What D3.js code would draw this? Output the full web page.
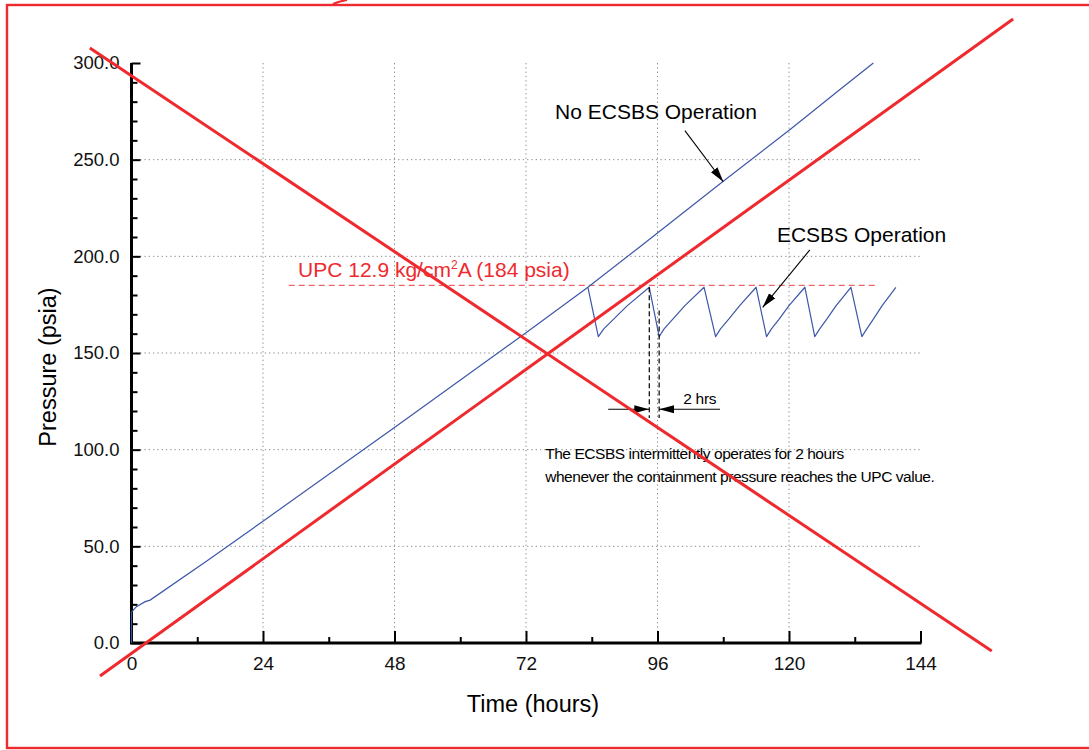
<!DOCTYPE html>
<html>
<head>
<meta charset="utf-8">
<script src="https://cdn.jsdelivr.net/npm/d3@7"></script>
<style>
  body { margin: 0; background: #fff; }
  svg text { font-family: "Liberation Sans", Arial, sans-serif; }
</style>
</head>
<body>
<div class="graph"></div>
<script>
/*---------- DATA ----------*/

// tick labels
const X_TICKS = [0, 24, 48, 72, 96, 120, 144];
const X_MINOR = [12, 36, 60, 84, 108, 132];
const Y_TICKS = [0, 50, 100, 150, 200, 250, 300];
const X_GRID = [24, 48, 72, 96, 120];
const Y_GRID = [50, 100, 150, 200, 250];

// pressure without ECSBS [hours, psia]
const noEcsbs = [
  [0, 0], [0, 16], [0.9, 18.8], [2.5, 21.4], [3.4, 22.2], [14, 42.9],
  [24, 63], [48, 111.5], [72, 160.5], [83.3, 184], [92.8, 205],
  [108, 238.8], [120.2, 265.6], [129.3, 286.3], [135.4, 300]
];

// pressure with ECSBS operating (sawtooth) [hours, psia]
const ecsbs = [
  [83.3, 184], [85.2, 158.5], [86.2, 162.5], [88, 167.5], [90.5, 174.5], [94.5, 184],
  [96.3, 158.5], [97.2, 162.5], [98.8, 167.5], [101, 174.5], [104.5, 184],
  [106.6, 158.5], [107.5, 162.5], [109, 167.5], [111, 174.5], [114, 184],
  [115.9, 158.5], [116.8, 162.5], [118.2, 167.5], [120, 174.5], [122.9, 184],
  [124.7, 158.5], [125.6, 162.5], [126.9, 167.5], [128.6, 174.5], [131.3, 184],
  [133.3, 158.5], [134.2, 162.5], [135.4, 167.5], [137, 174.5], [139.5, 184]
];

// UPC limit line
const UPC = 185;
const UPC_RANGE = [28.7, 136];

// red crossing-out strokes over the whole figure
const crossA = [[-7.6, 307.8], [157.0, -4.1]];
const crossB = [[-5.75, -17.1], [160.9, 322.8]];

/*---------- D3 STUFF ----------*/

const SIZE = {X: 1089, Y: 750};
const PLOT = {LEFT: 131.5, RIGHT: 920.5, TOP: 63, BOTTOM: 643};
const FONT = '"Liberation Sans", Arial, sans-serif';
const RED = "#ee2a2e";
const BLUE = "#3d57a8";

const svg = d3.select(".graph").append("svg")
    .attr("width", SIZE.X)
    .attr("height", SIZE.Y);

// scales
const x = d3.scaleLinear().domain([0, 144]).range([PLOT.LEFT, PLOT.RIGHT]);
const y = d3.scaleLinear().domain([0, 300]).range([PLOT.BOTTOM, PLOT.TOP]);

// red frame
svg.append("rect")
    .attr("x", 7).attr("y", 5)
    .attr("width", 1100).attr("height", 743)
    .attr("fill", "none")
    .attr("stroke", RED)
    .attr("stroke-width", 2.4);

svg.append("path")
    .attr("d", "M333,4 Q340,1 347,0")
    .attr("fill", "none")
    .attr("stroke", RED)
    .attr("stroke-width", 2);

// dotted grid
svg.append("g").selectAll("line")
    .data(X_GRID).enter().append("line")
    .attr("x1", d => x(d)).attr("x2", d => x(d))
    .attr("y1", y(300)).attr("y2", y(0))
    .attr("stroke", "#8a8a8a").attr("stroke-width", 1)
    .attr("stroke-dasharray", "1.3,3");

svg.append("g").selectAll("line")
    .data(Y_GRID).enter().append("line")
    .attr("x1", x(0)).attr("x2", x(144))
    .attr("y1", d => y(d)).attr("y2", d => y(d))
    .attr("stroke", "#8a8a8a").attr("stroke-width", 1)
    .attr("stroke-dasharray", "1.3,3");

// axes (ticks point inwards)
const yAxis = svg.append("g")
    .attr("transform", `translate(${PLOT.LEFT},0)`)
    .call(d3.axisLeft(y).tickValues(Y_TICKS).tickSize(-9).tickSizeOuter(0)
        .tickPadding(12).tickFormat(d3.format(".1f")));

svg.append("g")
    .attr("transform", `translate(${PLOT.LEFT},0)`)
    .call(d3.axisLeft(y).tickValues(d3.range(10, 300, 10).filter(d => d % 50)).tickSize(-6)
        .tickSizeOuter(0).tickFormat(""));

const xAxis = svg.append("g")
    .attr("transform", `translate(0,${PLOT.BOTTOM})`)
    .call(d3.axisBottom(x).tickValues(X_TICKS).tickSize(-12).tickSizeOuter(0)
        .tickPadding(14));

svg.append("g")
    .attr("transform", `translate(0,${PLOT.BOTTOM})`)
    .call(d3.axisBottom(x).tickValues(X_MINOR).tickSize(-6).tickSizeOuter(0).tickFormat(""));

svg.selectAll(".domain").remove();
svg.selectAll(".tick line")
    .attr("stroke", "#000")
    .attr("stroke-width", 2);

// axis spines
svg.append("path")
    .attr("d", `M${x(0)},${y(300)}V${y(0)}H${x(144) + 1}`)
    .attr("fill", "none")
    .attr("stroke", "#000")
    .attr("stroke-width", 3);

yAxis.selectAll("text").attr("font-family", FONT).attr("font-size", 18.5).attr("fill", "#111");
xAxis.selectAll("text").attr("font-family", FONT).attr("font-size", 19).attr("fill", "#111");

// axis titles
svg.append("text")
    .attr("x", 533).attr("y", 712)
    .attr("text-anchor", "middle")
    .attr("font-size", 23.5)
    .text("Time (hours)");

svg.append("text")
    .attr("transform", "translate(56,367) rotate(-90)")
    .attr("text-anchor", "middle")
    .attr("font-size", 23.5)
    .text("Pressure (psia)");

// UPC line + label
svg.append("line")
    .attr("x1", x(UPC_RANGE[0])).attr("x2", x(UPC_RANGE[1]))
    .attr("y1", y(UPC)).attr("y2", y(UPC))
    .attr("stroke", "#f06468").attr("stroke-width", 1.3)
    .attr("stroke-dasharray", "6,4");

const upcLabel = svg.append("text")
    .attr("x", x(30.4)).attr("y", y(189.5))
    .attr("font-size", 21)
    .attr("fill", RED);
upcLabel.append("tspan").text("UPC 12.9 kg/cm");
upcLabel.append("tspan").attr("font-size", 12).attr("dy", -8).text("2");
upcLabel.append("tspan").attr("dy", 8).text("A (184 psia)");

// line generator
const line = d3.line()
    .x(d => x(d[0]))
    .y(d => y(d[1]));

svg.append("path")
    .datum(noEcsbs)
    .attr("fill", "none")
    .attr("stroke", BLUE)
    .attr("stroke-width", 1.2)
    .attr("d", line);

svg.append("path")
    .datum(ecsbs)
    .attr("fill", "none")
    .attr("stroke", BLUE)
    .attr("stroke-width", 1.2)
    .attr("stroke-linejoin", "round")
    .attr("d", line);

// arrow heads
const defs = svg.append("defs");
defs.append("marker")
    .attr("id", "head")
    .attr("viewBox", "0 0 10 10")
    .attr("refX", 10).attr("refY", 5)
    .attr("markerWidth", 15).attr("markerHeight", 15)
    .attr("markerUnits", "userSpaceOnUse")
    .attr("orient", "auto")
  .append("path")
    .attr("d", "M0,2.3 L10,5 L0,7.7 Z")
    .attr("fill", "#000");

function arrow(from, to) {
    svg.append("line")
        .attr("x1", x(from[0])).attr("y1", y(from[1]))
        .attr("x2", x(to[0])).attr("y2", y(to[1]))
        .attr("stroke", "#000").attr("stroke-width", 1.1)
        .attr("marker-end", "url(#head)");
}

// series labels
svg.append("text")
    .attr("x", x(77.3)).attr("y", y(270.9))
    .attr("font-size", 21)
    .text("No ECSBS Operation");
arrow([101.0, 265.0], [108.0, 238.6]);

svg.append("text")
    .attr("x", x(117.8)).attr("y", y(207.6))
    .attr("font-size", 21)
    .text("ECSBS Operation");
arrow([123.8, 203.3], [115.2, 173.6]);

// 2 hour marker
svg.append("line")
    .attr("x1", x(94.5)).attr("x2", x(94.5))
    .attr("y1", y(184)).attr("y2", y(116.4))
    .attr("stroke", "#000").attr("stroke-width", 1.2)
    .attr("stroke-dasharray", "5,3");
svg.append("line")
    .attr("x1", x(96.3)).attr("x2", x(96.3))
    .attr("y1", y(172)).attr("y2", y(116.4))
    .attr("stroke", "#000").attr("stroke-width", 1.2)
    .attr("stroke-dasharray", "5,3");
arrow([87.0, 120.9], [94.5, 120.9]);
arrow([107.4, 120.9], [96.3, 120.9]);

svg.append("text")
    .attr("x", x(100.7)).attr("y", y(123.6))
    .attr("font-size", 15.5)
    .attr("letter-spacing", -0.3)
    .text("2 hrs");

svg.append("text")
    .attr("x", x(75.5)).attr("y", y(95.2))
    .attr("font-size", 15.5)
    .attr("letter-spacing", -0.45)
    .text("The ECSBS intermittently operates for 2 hours");
svg.append("text")
    .attr("x", x(75.5)).attr("y", y(83.1))
    .attr("font-size", 15.5)
    .attr("letter-spacing", -0.45)
    .text("whenever the containment pressure reaches the UPC value.");

// red crossing strokes on top of everything
[crossA, crossB].forEach(c => {
    svg.append("path")
        .datum(c)
        .attr("fill", "none")
        .attr("stroke", RED)
        .attr("stroke-width", 3)
        .attr("d", line);
});
</script>
</body>
</html>
